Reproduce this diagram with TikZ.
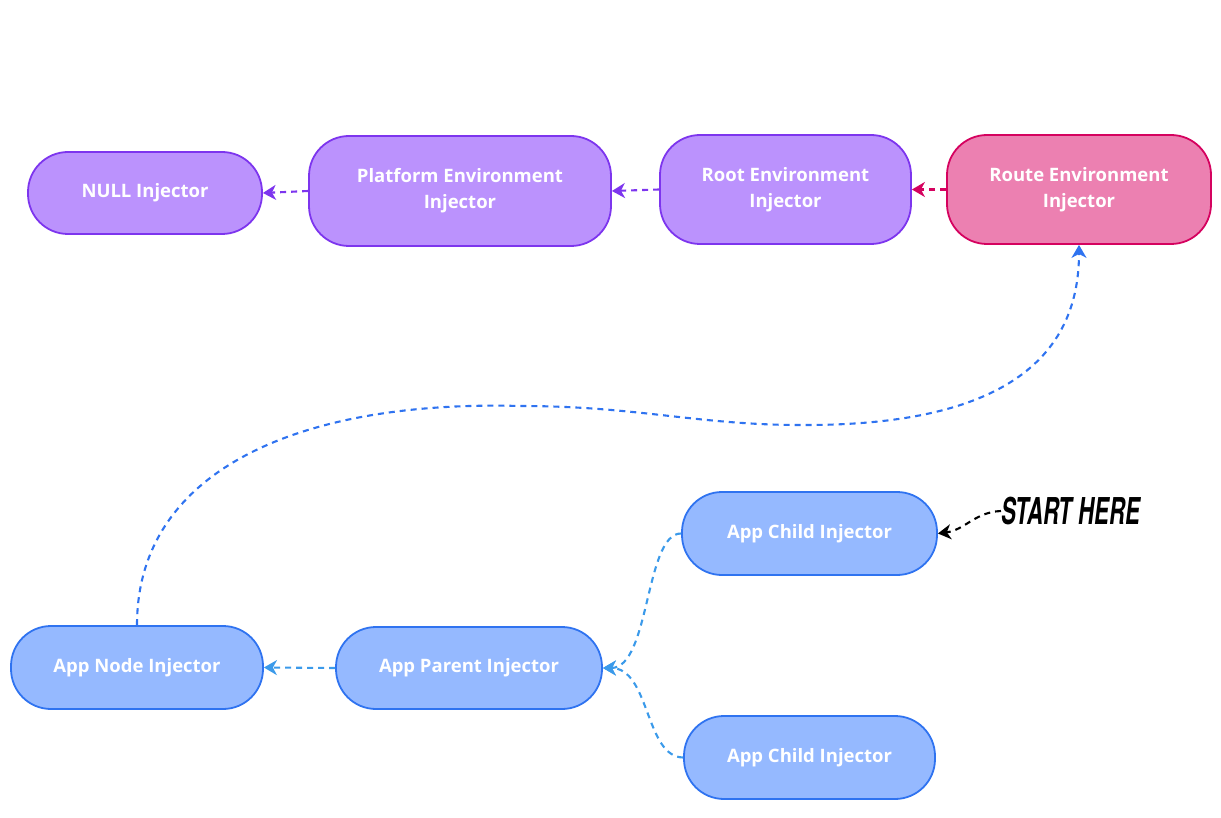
\documentclass[tikz,border=0pt]{standalone}
\usepackage{fontspec}
\setmainfont{Open Sans}
\newfontfamily\handfont{TeX Gyre Heros}
\usepackage{tikz}
\usetikzlibrary{arrows.meta}
\definecolor{purpfill}{HTML}{BB92FD}
\definecolor{purpline}{HTML}{7D35EE}
\definecolor{pinkfill}{HTML}{EC80B1}
\definecolor{pinkline}{HTML}{D5025F}
\definecolor{bluefill}{HTML}{95B9FF}
\definecolor{blueline}{HTML}{2F73F0}
\definecolor{skyline}{HTML}{3B9AEA}

\begin{document}
\begin{tikzpicture}[x=1pt,y=-1pt,
  inj/.style={rounded corners=40pt,line width=1.8pt,text=white,align=center,inner sep=0pt,
    font=\bfseries\fontsize{18.5}{26}\selectfont},
  purp/.style={inj,fill=purpfill,draw=purpline},
  pink/.style={inj,fill=pinkfill,draw=pinkline},
  blue/.style={inj,fill=bluefill,draw=blueline},
  lnk/.style={dash pattern=on 6pt off 5pt,line width=2.1pt,-{Stealth[length=13pt,width=15pt,inset=4pt]}}]
  \useasboundingbox (0,0) rectangle (1221,818);
  % upper row
  \node[purp,minimum width=234pt,minimum height=82pt] (null) at (145,193) {NULL Injector};
  \node[purp,minimum width=302pt,minimum height=110pt] (plat) at (460,191) {Platform Environment\\Injector};
  \node[purp,minimum width=251pt,minimum height=109pt] (root) at (785.5,189.5) {Root Environment\\Injector};
  \node[pink,minimum width=264pt,minimum height=109pt] (route) at (1079,189.5) {Route Environment\\Injector};
  \draw[lnk,purpline] (plat.west) -- (null.east);
  \draw[lnk,purpline] (root.west) -- (plat.east);
  \draw[lnk,pinkline] (route.west) -- (root.east);
  % lower row
  \node[blue,minimum width=252pt,minimum height=83pt] (anode) at (137,667.5) {App Node Injector};
  \node[blue,minimum width=266pt,minimum height=82pt] (apar) at (469,668) {App Parent Injector};
  \node[blue,minimum width=255pt,minimum height=83pt] (achA) at (809.5,533.5) {App Child Injector};
  \node[blue,minimum width=251pt,minimum height=83pt] (achB) at (809.5,757.5) {App Child Injector};
  \draw[lnk,skyline] (apar.west) -- (anode.east);
  \draw[lnk,skyline] (achA.west) .. controls (645,533) and (650,668) .. (apar.east);
  \draw[lnk,skyline] (achB.west) .. controls (645,757) and (650,668) .. (apar.east);
  \draw[lnk,blueline] (anode.north) .. controls (137,470) and (300,400) .. (520,406)
    .. controls (640,406) and (700,426) .. (810,425)
    .. controls (1000,424) and (1079,360) .. (route.south);
  % start marker
  \node[anchor=west,inner sep=0pt,font=\handfont\bfseries\itshape\fontsize{37}{37}\selectfont] (start) at (1001,511)
    {\scalebox{0.6}[1]{START HERE}};
  \draw[lnk,black] (start.west) .. controls (975,512) and (965,530) .. (achA.east);
\end{tikzpicture}
\end{document}
